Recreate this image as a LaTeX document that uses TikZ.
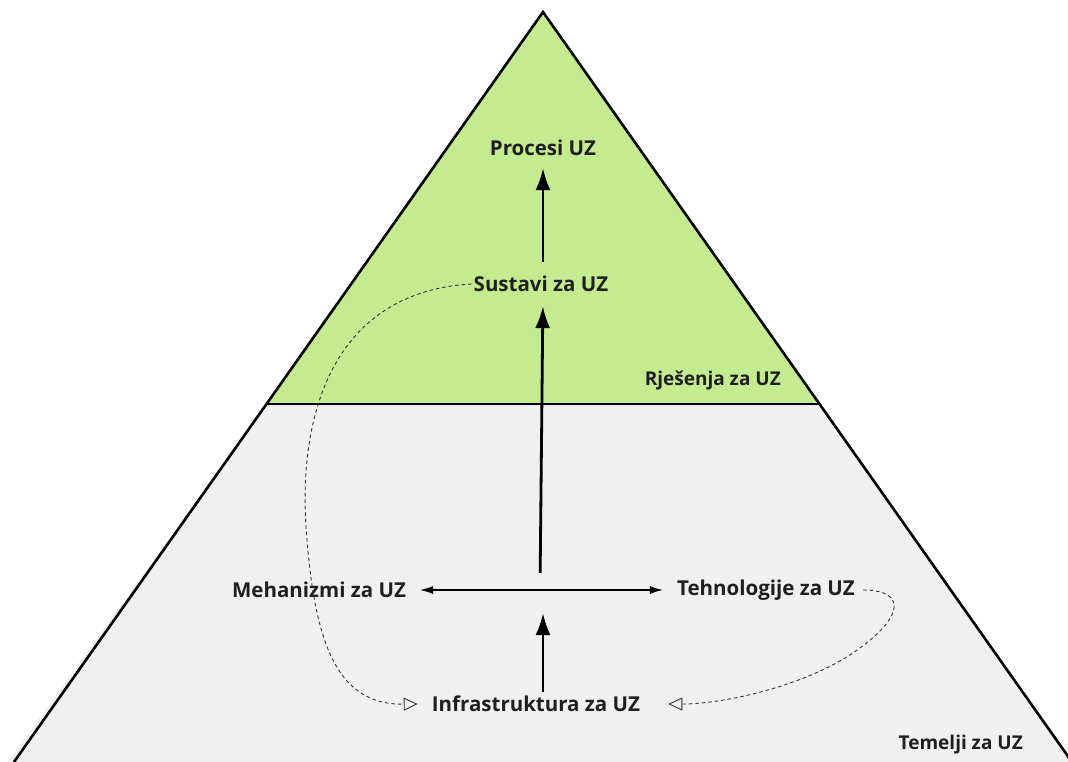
\documentclass[tikz,border=0pt]{standalone}
\usepackage{fontspec}
\setmainfont{Open Sans}
\usetikzlibrary{arrows.meta,calc,positioning}

\definecolor{solgreen}{RGB}{197,235,145}
\definecolor{basegrey}{RGB}{240,240,240}

\begin{document}
\begin{tikzpicture}[
    x=1pt, y=-1pt,
    lbl/.style={font=\fontsize{20.5}{22}\selectfont\bfseries, text=black!88, inner sep=2pt},
    tier/.style={lbl, font=\fontsize{19}{21}\selectfont\bfseries, anchor=east},
    bigarrow/.style={-{Latex[length=22pt,width=15pt]}, line width=2.8pt},
    thinarrow/.style={{Latex[length=13pt,width=8pt]}-{Latex[length=13pt,width=8pt]}, line width=1.1pt},
    dotted link/.style={dashed, dash pattern=on 3.5pt off 3pt, line width=0.9pt, black!80, -{Triangle[open,length=14pt,width=13pt]}},
  ]
  \useasboundingbox (0,0) rectangle (1068,762);
  \clip (0,0) rectangle (1068,762);

  % pyramid
  \coordinate (apex) at (543,12);
  \coordinate (bl) at (14,762);
  \coordinate (br) at (1072,762);
  \coordinate (ml) at ($(apex)!0.5227!(bl)$);
  \coordinate (mr) at ($(apex)!0.5227!(br)$);
  \fill[basegrey] (ml) -- (mr) -- (1100,800) -- (-20,800) -- cycle;
  \fill[solgreen] (apex) -- (ml) -- (mr) -- cycle;
  \draw[line width=2.6pt, line join=miter] (bl) -- (apex) -- (br);
  \draw[line width=2.6pt] (ml) -- (mr);

  % labels
  \node[lbl] (proc) at (543,148) {Procesi UZ};
  \node[lbl] (sust) at (541,284) {Sustavi za UZ};
  \node[tier] (sol) at (783,381) {Rješenja za UZ};
  \node[lbl] (mech) at (319,590) {Mehanizmi za UZ};
  \node[lbl] (tech) at (766,590) {Tehnologije za UZ};
  \node[lbl] (infra) at (536,704) {Infrastruktura za UZ};
  \node[tier] (base) at (1025,745) {Temelji za UZ};

  \coordinate (hub) at (543,590);

  % links
  \draw[bigarrow, shorten <=12pt, shorten >=10pt] (sust.north -| proc) -- (proc.south);
  \draw[bigarrow, shorten <=17pt, shorten >=12pt] ($(hub)+(-3,0)$) -- (sust.south -| hub);
  \draw[bigarrow, shorten <=2pt, shorten >=23pt] (infra.north -| hub) -- (hub);
  \draw[thinarrow, shorten <=12pt, shorten >=12pt] (mech.east) -- (tech.west);

  \draw[dotted link] (sust.west) .. controls (330,292) and (296,420) .. (307,540)
    .. controls (316,650) and (340,705) .. ($(infra.west)+(-12,0)$);
  \draw[dotted link] ($(tech.east)+(6,0)$) .. controls (905,590) and (905,615) .. (860,648)
    .. controls (810,685) and (725,704) .. ($(infra.east)+(26,0)$);
\end{tikzpicture}
\end{document}
